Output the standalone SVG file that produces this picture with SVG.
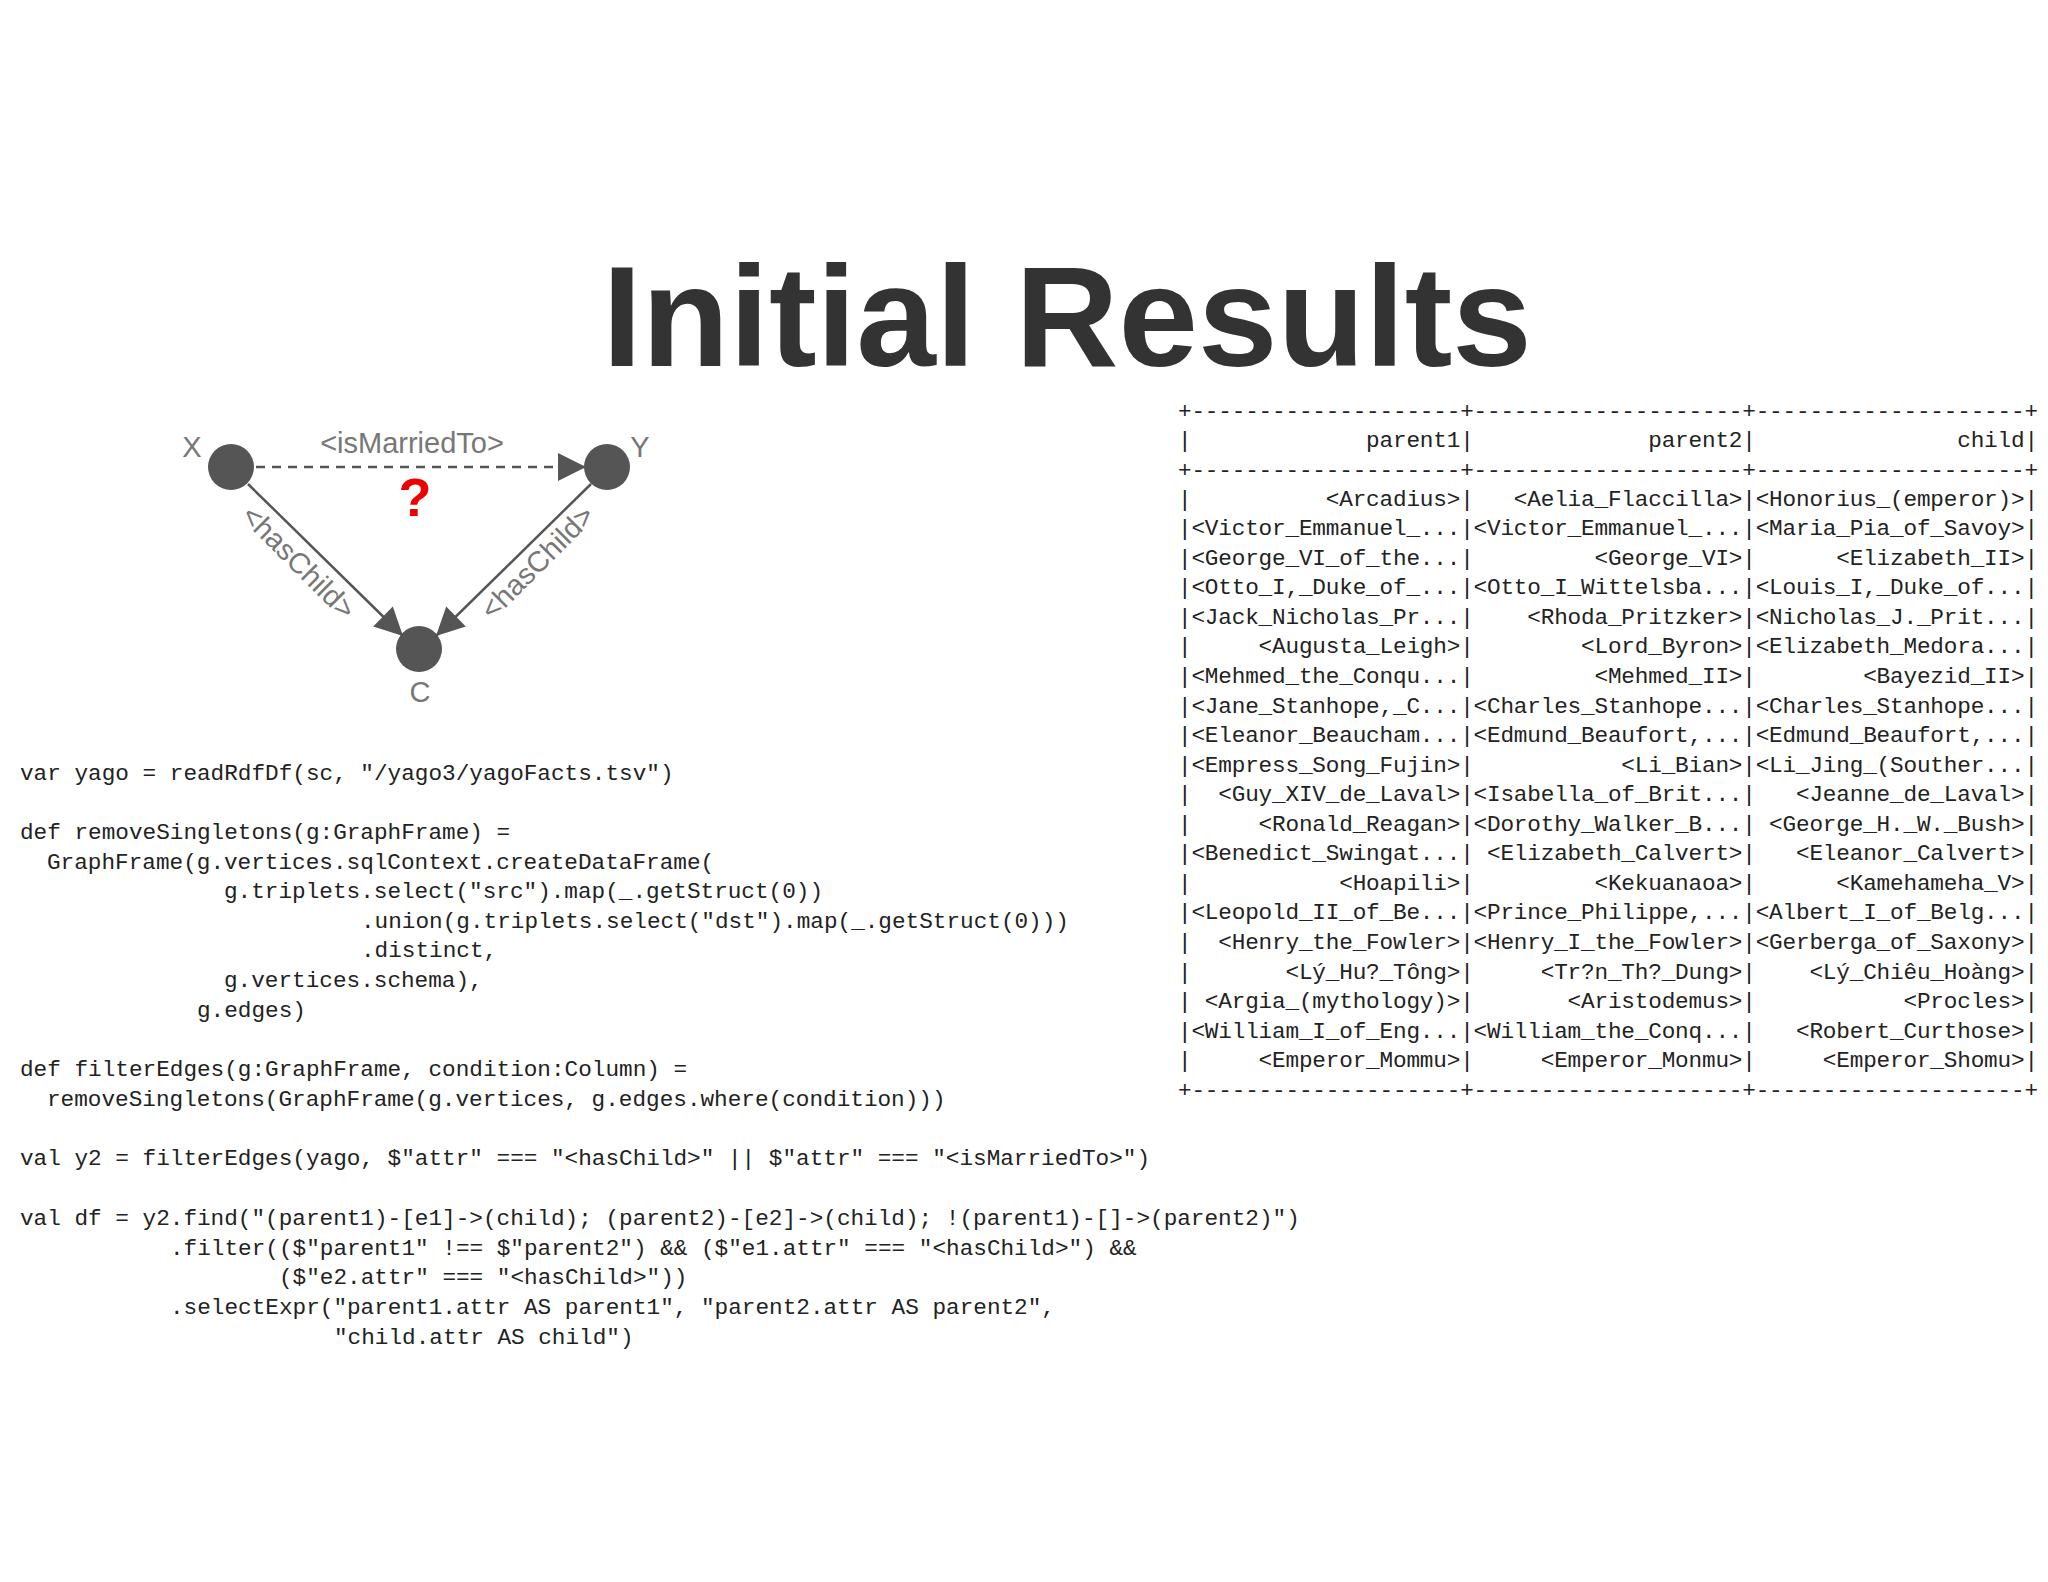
<svg xmlns="http://www.w3.org/2000/svg" width="2048" height="1582" viewBox="0 0 2048 1582">
<style>
.m{font-family:"Liberation Mono","DejaVu Sans Mono",monospace;font-size:22.7px;fill:#222}
.g{font-family:"Liberation Sans",Arial,sans-serif;fill:#777}
.e{stroke:#555;stroke-width:2.5;fill:none}
</style>
<defs>
<marker id="ah" viewBox="0 0 10 10" refX="10" refY="5" markerWidth="32" markerHeight="28" markerUnits="userSpaceOnUse" orient="auto"><path d="M0,0L10,5L0,10Z" fill="#555"/></marker>
</defs>
<rect width="2048" height="1582" fill="#fff"/>
<text x="1067" y="366" text-anchor="middle" font-family="Liberation Sans,Arial,sans-serif" font-weight="bold" font-size="143" fill="#333">Initial Results</text>
<g id="connectors">
<line class="e" x1="256" y1="467" x2="586" y2="467" stroke-dasharray="9,7" marker-end="url(#ah)"/>
<line class="e" x1="248" y1="484" x2="403" y2="636" marker-end="url(#ah)"/>
<line class="e" x1="591" y1="484" x2="436" y2="636" marker-end="url(#ah)"/>
<text class="g" x="412" y="453" text-anchor="middle" font-size="29">&lt;isMarriedTo&gt;</text>
<text class="g" x="298" y="572" text-anchor="middle" font-size="29" transform="rotate(45 298 563)">&lt;hasChild&gt;</text>
<text class="g" x="538" y="572" text-anchor="middle" font-size="29" transform="rotate(-45 538 563)">&lt;hasChild&gt;</text>
<text x="415" y="516" text-anchor="middle" font-family="Liberation Sans,Arial,sans-serif" font-weight="bold" font-size="54" fill="#e00">?</text>
</g>
<g id="nodeX"><circle cx="231" cy="467" r="23" fill="#555"/><text class="g" x="192" y="457" text-anchor="middle" font-size="29">X</text></g>
<g id="nodeY"><circle cx="607" cy="467" r="23" fill="#555"/><text class="g" x="640" y="457" text-anchor="middle" font-size="29">Y</text></g>
<g id="nodeC"><circle cx="419" cy="649" r="23" fill="#555"/><text class="g" x="420" y="702" text-anchor="middle" font-size="29">C</text></g>
<g id="table" class="m">
<text x="1178" y="418" textLength="860" lengthAdjust="spacing">+--------------------+--------------------+--------------------+</text>
<text x="1178" y="447" textLength="860" lengthAdjust="spacing">|&#160;&#160;&#160;&#160;&#160;&#160;&#160;&#160;&#160;&#160;&#160;&#160;&#160;parent1|&#160;&#160;&#160;&#160;&#160;&#160;&#160;&#160;&#160;&#160;&#160;&#160;&#160;parent2|&#160;&#160;&#160;&#160;&#160;&#160;&#160;&#160;&#160;&#160;&#160;&#160;&#160;&#160;&#160;child|</text>
<text x="1178" y="477" textLength="860" lengthAdjust="spacing">+--------------------+--------------------+--------------------+</text>
<text x="1178" y="505.6" textLength="860" lengthAdjust="spacing">|&#160;&#160;&#160;&#160;&#160;&#160;&#160;&#160;&#160;&#160;&lt;Arcadius&gt;|&#160;&#160;&#160;&lt;Aelia_Flaccilla&gt;|&lt;Honorius_(emperor)&gt;|</text>
<text x="1178" y="535.2" textLength="860" lengthAdjust="spacing">|&lt;Victor_Emmanuel_...|&lt;Victor_Emmanuel_...|&lt;Maria_Pia_of_Savoy&gt;|</text>
<text x="1178" y="564.7" textLength="860" lengthAdjust="spacing">|&lt;George_VI_of_the...|&#160;&#160;&#160;&#160;&#160;&#160;&#160;&#160;&#160;&lt;George_VI&gt;|&#160;&#160;&#160;&#160;&#160;&#160;&lt;Elizabeth_II&gt;|</text>
<text x="1178" y="594.3" textLength="860" lengthAdjust="spacing">|&lt;Otto_I,_Duke_of_...|&lt;Otto_I_Wittelsba...|&lt;Louis_I,_Duke_of...|</text>
<text x="1178" y="623.8" textLength="860" lengthAdjust="spacing">|&lt;Jack_Nicholas_Pr...|&#160;&#160;&#160;&#160;&lt;Rhoda_Pritzker&gt;|&lt;Nicholas_J._Prit...|</text>
<text x="1178" y="653.4" textLength="860" lengthAdjust="spacing">|&#160;&#160;&#160;&#160;&#160;&lt;Augusta_Leigh&gt;|&#160;&#160;&#160;&#160;&#160;&#160;&#160;&#160;&lt;Lord_Byron&gt;|&lt;Elizabeth_Medora...|</text>
<text x="1178" y="683" textLength="860" lengthAdjust="spacing">|&lt;Mehmed_the_Conqu...|&#160;&#160;&#160;&#160;&#160;&#160;&#160;&#160;&#160;&lt;Mehmed_II&gt;|&#160;&#160;&#160;&#160;&#160;&#160;&#160;&#160;&lt;Bayezid_II&gt;|</text>
<text x="1178" y="712.5" textLength="860" lengthAdjust="spacing">|&lt;Jane_Stanhope,_C...|&lt;Charles_Stanhope...|&lt;Charles_Stanhope...|</text>
<text x="1178" y="742.1" textLength="860" lengthAdjust="spacing">|&lt;Eleanor_Beaucham...|&lt;Edmund_Beaufort,...|&lt;Edmund_Beaufort,...|</text>
<text x="1178" y="771.6" textLength="860" lengthAdjust="spacing">|&lt;Empress_Song_Fujin&gt;|&#160;&#160;&#160;&#160;&#160;&#160;&#160;&#160;&#160;&#160;&#160;&lt;Li_Bian&gt;|&lt;Li_Jing_(Souther...|</text>
<text x="1178" y="801.2" textLength="860" lengthAdjust="spacing">|&#160;&#160;&lt;Guy_XIV_de_Laval&gt;|&lt;Isabella_of_Brit...|&#160;&#160;&#160;&lt;Jeanne_de_Laval&gt;|</text>
<text x="1178" y="830.8" textLength="860" lengthAdjust="spacing">|&#160;&#160;&#160;&#160;&#160;&lt;Ronald_Reagan&gt;|&lt;Dorothy_Walker_B...|&#160;&lt;George_H._W._Bush&gt;|</text>
<text x="1178" y="860.3" textLength="860" lengthAdjust="spacing">|&lt;Benedict_Swingat...|&#160;&lt;Elizabeth_Calvert&gt;|&#160;&#160;&#160;&lt;Eleanor_Calvert&gt;|</text>
<text x="1178" y="889.9" textLength="860" lengthAdjust="spacing">|&#160;&#160;&#160;&#160;&#160;&#160;&#160;&#160;&#160;&#160;&#160;&lt;Hoapili&gt;|&#160;&#160;&#160;&#160;&#160;&#160;&#160;&#160;&#160;&lt;Kekuanaoa&gt;|&#160;&#160;&#160;&#160;&#160;&#160;&lt;Kamehameha_V&gt;|</text>
<text x="1178" y="919.4" textLength="860" lengthAdjust="spacing">|&lt;Leopold_II_of_Be...|&lt;Prince_Philippe,...|&lt;Albert_I_of_Belg...|</text>
<text x="1178" y="949" textLength="860" lengthAdjust="spacing">|&#160;&#160;&lt;Henry_the_Fowler&gt;|&lt;Henry_I_the_Fowler&gt;|&lt;Gerberga_of_Saxony&gt;|</text>
<text x="1178" y="978.6" textLength="860" lengthAdjust="spacing">|&#160;&#160;&#160;&#160;&#160;&#160;&#160;&lt;Lý_Hu?_Tông&gt;|&#160;&#160;&#160;&#160;&#160;&lt;Tr?n_Th?_Dung&gt;|&#160;&#160;&#160;&#160;&lt;Lý_Chiêu_Hoàng&gt;|</text>
<text x="1178" y="1008.1" textLength="860" lengthAdjust="spacing">|&#160;&lt;Argia_(mythology)&gt;|&#160;&#160;&#160;&#160;&#160;&#160;&#160;&lt;Aristodemus&gt;|&#160;&#160;&#160;&#160;&#160;&#160;&#160;&#160;&#160;&#160;&#160;&lt;Procles&gt;|</text>
<text x="1178" y="1037.7" textLength="860" lengthAdjust="spacing">|&lt;William_I_of_Eng...|&lt;William_the_Conq...|&#160;&#160;&#160;&lt;Robert_Curthose&gt;|</text>
<text x="1178" y="1067.2" textLength="860" lengthAdjust="spacing">|&#160;&#160;&#160;&#160;&#160;&lt;Emperor_Mommu&gt;|&#160;&#160;&#160;&#160;&#160;&lt;Emperor_Monmu&gt;|&#160;&#160;&#160;&#160;&#160;&lt;Emperor_Shomu&gt;|</text>
<text x="1178" y="1097" textLength="860" lengthAdjust="spacing">+--------------------+--------------------+--------------------+</text>
</g>
<g id="code" class="m">
<text x="20" y="780">var yago = readRdfDf(sc, "/yago3/yagoFacts.tsv")</text>
<text x="20" y="839">def removeSingletons(g:GraphFrame) =</text>
<text x="47" y="869">GraphFrame(g.vertices.sqlContext.createDataFrame(</text>
<text x="224" y="898">g.triplets.select("src").map(_.getStruct(0))</text>
<text x="361" y="928">.union(g.triplets.select("dst").map(_.getStruct(0)))</text>
<text x="361" y="957">.distinct,</text>
<text x="224" y="987">g.vertices.schema),</text>
<text x="197" y="1017">g.edges)</text>
<text x="20" y="1076">def filterEdges(g:GraphFrame, condition:Column) =</text>
<text x="47" y="1106">removeSingletons(GraphFrame(g.vertices, g.edges.where(condition)))</text>
<text x="20" y="1165">val y2 = filterEdges(yago, $"attr" === "&lt;hasChild&gt;" || $"attr" === "&lt;isMarriedTo&gt;")</text>
<text x="20" y="1225">val df = y2.find("(parent1)-[e1]-&gt;(child); (parent2)-[e2]-&gt;(child); !(parent1)-[]-&gt;(parent2)")</text>
<text x="170" y="1255">.filter(($"parent1" !== $"parent2") &amp;&amp; ($"e1.attr" === "&lt;hasChild&gt;") &amp;&amp;</text>
<text x="279" y="1284">($"e2.attr" === "&lt;hasChild&gt;"))</text>
<text x="170" y="1314">.selectExpr("parent1.attr AS parent1", "parent2.attr AS parent2",</text>
<text x="334" y="1344">"child.attr AS child")</text>
</g>
</svg>
